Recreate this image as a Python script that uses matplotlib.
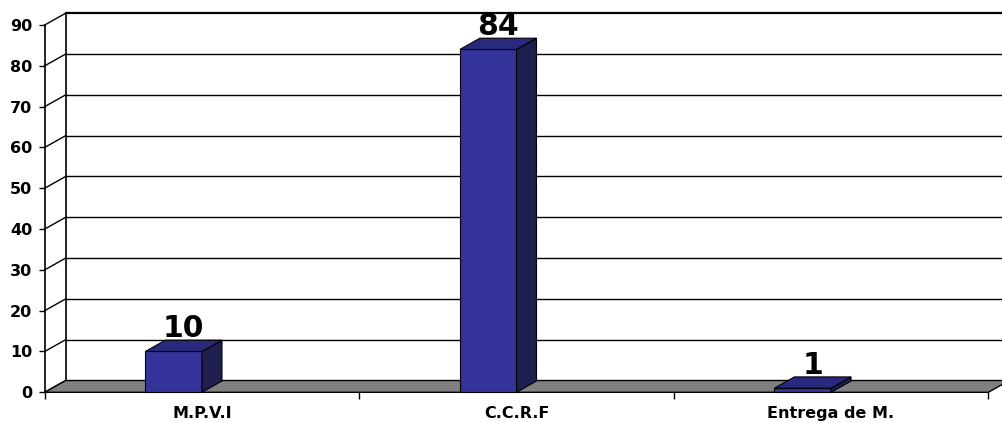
import matplotlib
matplotlib.use("Agg")
import matplotlib.pyplot as plt
from matplotlib.patches import Polygon

categories = ["M.P.V.I", "C.C.R.F", "Entrega de M."]
values = [10, 84, 1]
y_ticks = [0, 10, 20, 30, 40, 50, 60, 70, 80, 90]

plt.rcParams['font.family'] = ['DejaVu Sans']

W, H = 1002, 423
fig = plt.figure(figsize=(W / 100, H / 100), dpi=100)
ax_l, ax_r, ax_t, ax_b = 44.7, 988.3, 25.0, 392.3
ax = fig.add_axes([ax_l / W, (H - ax_b) / H, (ax_r - ax_l) / W, (ax_b - ax_t) / H])
ax.set_xlim(-0.5, 2.5)
ax.set_ylim(0, 90)

px_x = (ax_r - ax_l) / 3.0
px_y = (ax_b - ax_t) / 90.0
wdx, wdy = 21 / px_x, 11.8 / px_y      # wall depth
bdx, bdy = 20 / px_x, 11.3 / px_y      # bar depth
bw = 0.18

x0 = -0.5
x1 = 2.5
# back wall gridlines
for v in y_ticks:
    lw = 1.6 if v == 90 else 1.0
    ax.plot([x0 + wdx, x1 + wdx + 0.2], [v + wdy, v + wdy], color='black', lw=lw, clip_on=False, zorder=1)
    ax.plot([x0, x0 + wdx], [v, v + wdy], color='black', lw=1.0, clip_on=False, zorder=1)
ax.plot([x0 + wdx, x0 + wdx], [wdy, 90 + wdy], color='black', lw=1.2, clip_on=False, zorder=1)

# floor
floor = Polygon([(x0, 0), (x1, 0), (x1 + wdx, wdy), (x0 + wdx, wdy)], closed=True,
                facecolor='#808080', edgecolor='black', lw=1.0, clip_on=False, zorder=2)
ax.add_patch(floor)

# bars
for i, v in enumerate(values):
    l, r = i - bw, i
    front = Polygon([(l, 0), (r, 0), (r, v), (l, v)], closed=True,
                    facecolor='#333399', edgecolor='black', lw=0.8, clip_on=False, zorder=3)
    side = Polygon([(r, 0), (r + bdx, bdy), (r + bdx, v + bdy), (r, v)], closed=True,
                   facecolor='#1e1e4f', edgecolor='black', lw=0.8, clip_on=False, zorder=3)
    top = Polygon([(l, v), (r, v), (r + bdx, v + bdy), (l + bdx, v + bdy)], closed=True,
                  facecolor='#29297d', edgecolor='black', lw=0.8, clip_on=False, zorder=3)
    for p in (front, side, top):
        ax.add_patch(p)
    ax.annotate(str(v), xy=(l + (bw + bdx) / 2, v + bdy), xytext=(0, 3), textcoords='offset pixels',
                ha='center', va='baseline', fontsize=21.5, fontweight='bold', zorder=5,
                annotation_clip=False)

# axes styling
for s in ['top', 'right', 'bottom']:
    ax.spines[s].set_visible(False)
ax.spines['left'].set_linewidth(1.2)
ax.spines['left'].set_zorder(4)
ax.set_yticks(y_ticks)
ax.set_yticklabels([str(t) for t in y_ticks], fontsize=11.5, fontweight='bold')
ax.tick_params(axis='y', direction='out', length=4, width=1, pad=5)
ax.set_xticks(range(len(categories)))
ax.set_xticks([-0.5, 0.5, 1.5, 2.5], minor=True)
ax.set_xticklabels(categories, fontsize=11.5, fontweight='bold')
ax.tick_params(axis='x', which='major', length=0, pad=10)
ax.tick_params(axis='x', which='minor', direction='out', length=5, width=1)
ax.patch.set_visible(False)

fig.savefig("out.png", dpi=100, facecolor='white')
